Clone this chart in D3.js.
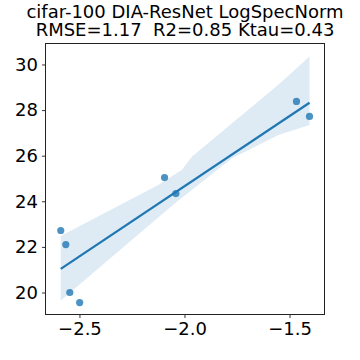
<!DOCTYPE html>
<html>
<head>
<meta charset="utf-8">
<script src="https://cdn.jsdelivr.net/npm/d3@7"></script>
<style>
  body { margin: 0; background: #fff; }
  text { font-family: "DejaVu Sans", sans-serif; }
</style>
</head>
<body>
<script>
// scatter values
var xVals = [-2.589, -2.565, -2.546, -2.499, -2.095, -2.041, -1.467, -1.405];
var yVals = [22.72, 22.10, 20.00, 19.56, 25.04, 24.34, 28.38, 27.72];

// confidence band edges (bootstrap band)
var bandUpX = [-2.589, -2.123, -2.012, -1.964, -1.553, -1.405];
var bandUpY = [22.48, 24.72, 25.38, 25.96, 29.11, 30.35];
var bandLoX = [-2.589, -2.044, -1.774, -1.553, -1.405];
var bandLoY = [19.65, 23.92, 25.89, 26.91, 27.35];

var xTicks = [-2.5, -2.0, -1.5];
var yTicks = [20, 22, 24, 26, 28, 30];

var titleLines = ["cifar-100 DIA-ResNet LogSpecNorm", "RMSE=1.17  R2=0.85 Ktau=0.43"];

var W = 360, H = 360;
var margin = {top: 43.5, right: 35.5, bottom: 45.5, left: 45.5};
var w = W - margin.left - margin.right,
    h = H - margin.top - margin.bottom;

var blue = "#1f77b4";

var svg = d3.select("body").append("svg")
    .attr("width", W)
    .attr("height", H);

var x = d3.scaleLinear().domain([-2.6616, -1.3336]).range([0, w]);
var y = d3.scaleLinear().domain([19.035, 30.92]).range([h, 0]);

var g = svg.append("g")
    .attr("transform", "translate(" + margin.left + "," + margin.top + ")");

// band
var bandPts = bandUpX.map(function(d, i) { return [x(d), y(bandUpY[i])]; });
for (var i = bandLoX.length - 1; i >= 0; i--) {
  bandPts.push([x(bandLoX[i]), y(bandLoY[i])]);
}
g.append("path")
  .attr("d", "M" + bandPts.join("L") + "Z")
  .attr("fill", blue)
  .attr("fill-opacity", 0.15);

// least squares fit line
var mx = d3.mean(xVals), my = d3.mean(yVals);
var sxy = d3.sum(xVals, function(d, i) { return (d - mx) * (yVals[i] - my); });
var sxx = d3.sum(xVals, function(d) { return (d - mx) * (d - mx); });
var slope = sxy / sxx, icpt = my - slope * mx;
var x0 = d3.min(xVals), x1 = d3.max(xVals);

g.append("line")
  .attr("x1", x(x0)).attr("y1", y(icpt + slope * x0))
  .attr("x2", x(x1)).attr("y2", y(icpt + slope * x1))
  .attr("stroke", blue)
  .attr("stroke-width", 2.2);

g.selectAll("circle").data(xVals).enter().append("circle")
  .attr("cx", function(d) { return x(d); })
  .attr("cy", function(d, i) { return y(yVals[i]); })
  .attr("r", 3.6)
  .attr("fill", blue)
  .attr("fill-opacity", 0.8);

// axes
var xAxis = g.append("g")
  .attr("transform", "translate(0," + h + ")")
  .call(d3.axisBottom(x).tickValues(xTicks).tickSize(3.5).tickPadding(4)
    .tickFormat(function(d) { return d3.format(".1f")(d).replace("-", "\u2212"); }));
var yAxis = g.append("g")
  .call(d3.axisLeft(y).tickValues(yTicks).tickSize(3.5).tickPadding(4));

[xAxis, yAxis].forEach(function(a) {
  a.select(".domain").remove();
  a.selectAll("line").attr("stroke", "#000").attr("stroke-width", 0.8);
  a.selectAll("text").attr("font-size", 18).attr("fill", "#000")
    .style("font-family", "DejaVu Sans");
});

g.append("rect")
  .attr("width", w).attr("height", h)
  .attr("fill", "none")
  .attr("stroke", "#222")
  .attr("stroke-width", 1);

svg.selectAll(".title").data(titleLines).enter().append("text")
  .attr("class", "title")
  .attr("x", margin.left + w / 2)
  .attr("y", function(d, i) { return 18 + i * 17.6; })
  .attr("text-anchor", "middle")
  .attr("font-size", 18)
  .attr("fill", "#000")
  .style("white-space", "pre")
  .text(function(d) { return d; });
</script>
</body>
</html>
